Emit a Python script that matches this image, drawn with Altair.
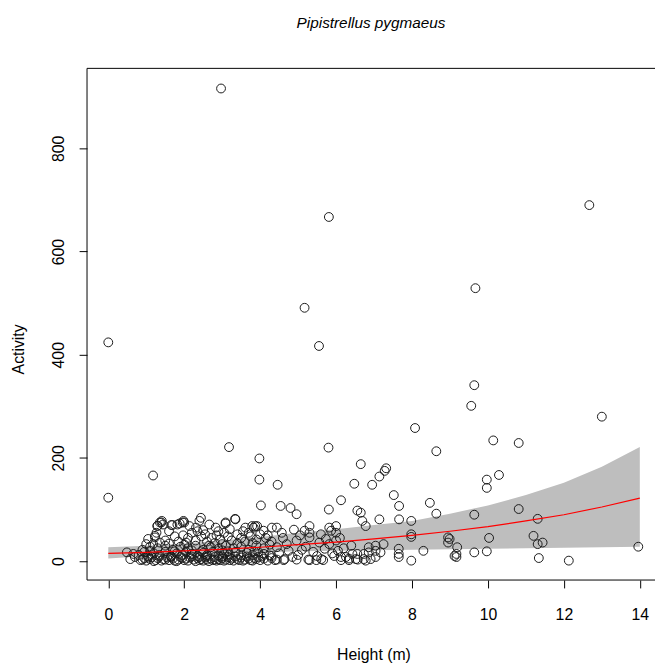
import altair as alt
import pandas as pd

chart_title = "Pipistrellus pygmaeus"
x_title = "Height (m)"
y_title = "Activity"
x_ticks = [0, 2, 4, 6, 8, 10, 12, 14]
y_ticks = [0, 200, 400, 600, 800]

# observed points (Height, Activity), grouped by region of the scatter
g1_x = [0, 0, 2.97, 5.81, 5.17, 5.55, 9.67, 9.64, 9.56, 13.0, 12.67, 8.08, 10.14, 10.81, 8.64,
        3.18, 5.8, 3.98, 6.65, 7.32, 7.28, 7.14, 1.18, 3.98, 9.97, 9.97, 10.29, 6.48, 6.95, 4.46,
        7.52, 6.13, 8.47, 4.02, 4.54, 7.66, 4.8, 10.81, 5.81, 6.56, 6.65, 8.64, 4.96, 9.64, 11.31,
        7.14, 7.66, 7.98, 6.69]
g1_y = [123, 424, 916, 667, 491, 417, 529, 341, 301, 280, 690, 258, 234, 229, 213,
        221, 220, 199, 188, 180, 175, 164, 166, 158, 158, 142, 167, 150, 148, 148,
        128, 118, 113, 108, 107, 107, 103, 101, 100, 98, 94, 92, 91, 90, 82,
        81, 81, 78, 78]

g2_x = [10.03, 11.2, 11.31, 11.44, 9.64, 9.97, 11.34, 12.13, 13.96, 7.98, 7.98, 8.95, 8.95, 9.19, 9.17,
        9.17, 8.3, 7.98, 7.04, 7.04, 7.25, 6.86, 6.86, 6.73, 6.73, 6.56, 6.43, 6.52, 7.65, 7.65,
        7.65, 6.13, 6.26, 6.34, 9.12, 6.78, 7.04, 6.91, 6.78, 7.17, 8.99]
g2_y = [45, 49, 33, 36, 17, 19, 6, 1, 28, 52, 47, 46, 36, 27, 14,
        8, 20, 1, 30, 20, 33, 27, 17, 14, 4, 14, 14, 4, 24, 14,
        8, 8, 8, 2, 10, 68, 8, 4, 1, 17, 43]

g3_x = [4.89, 5.17, 5.3, 5.3, 5.82, 5.87, 6.0, 6.0, 4.44, 4.57, 4.44, 4.7, 4.96, 5.3, 5.56,
        5.73, 5.82, 6.0, 4.44, 4.62, 4.96, 5.3, 5.61, 5.66, 4.39, 4.64, 5.27, 5.48, 6.13, 6.34,
        6.57, 4.5, 4.75, 5.0, 5.1, 5.4, 5.5, 5.7, 5.9, 6.05, 4.3, 4.85, 5.2, 5.95, 6.2,
        6.4, 4.6, 4.2, 4.3, 5.05, 5.6, 6.1]
g3_y = [61, 59, 68, 55, 65, 59, 68, 55, 65, 55, 27, 33, 40, 46, 36,
        43, 33, 40, 3, 2, 3, 2, 4, 2, 2, 4, 3, 2, 2, 5,
        3, 15, 20, 12, 22, 18, 10, 24, 15, 20, 10, 8, 28, 10, 25,
        30, 45, 50, 38, 50, 52, 45]

g4_x = [1.4, 1.3, 1.69, 1.88, 1.98, 1.27, 1.05, 1.23, 1.36, 1.44, 1.29, 1.41, 1.66, 1.82, 1.96,
        2.44, 2.4, 2.14, 2.31, 2.66, 2.83, 3.09, 3.35, 3.61, 3.87, 3.7, 3.83, 4.09, 4.31, 3.34,
        3.09, 2.0, 3.79, 3.92, 1.23, 1.36, 1.18]
g4_y = [75, 69, 70, 73, 78, 55, 43, 46, 75, 71, 68, 78, 70, 71, 75,
        84, 78, 68, 65, 71, 65, 73, 81, 65, 68, 55, 65, 59, 65, 82,
        75, 75, 68, 68, 49, 36, 33]

g5_x = [1.97, 2.1, 2.2, 2.3, 2.45, 2.55, 2.6, 2.72, 2.85, 2.95, 3.05, 3.15, 3.25, 3.4, 3.5,
        3.6, 3.75, 3.9, 4.0, 4.15, 2.05, 2.5, 2.9, 3.2, 3.55, 1.6, 1.75, 1.5, 1.85, 2.35,
        2.65, 3.0]
g5_y = [50, 45, 55, 40, 48, 52, 38, 45, 50, 42, 55, 48, 40, 52, 45,
        38, 48, 42, 52, 45, 36, 60, 58, 62, 58, 58, 48, 40, 38, 58,
        30, 33]

g6_x = [0.9, 1.1, 1.3, 1.5, 1.7, 1.9, 2.1, 2.3, 2.5, 2.7, 2.9, 3.1, 3.3, 3.5, 3.7,
        3.9, 4.1, 4.25, 1.0, 2.0, 2.8, 3.4, 1.6, 2.2, 3.0, 3.8]
g6_y = [22, 28, 25, 30, 22, 28, 25, 30, 22, 27, 24, 30, 25, 28, 22,
        30, 25, 32, 33, 32, 35, 34, 34, 21, 21, 35]

g7_x = [0.49, 0.66, 0.8, 0.95, 1.05, 1.2, 1.35, 1.5, 1.65, 1.8, 1.95, 2.05, 2.2, 2.35, 2.5,
        2.6, 2.75, 2.9, 3.05, 3.2, 3.35, 3.5, 3.65, 3.8, 3.95, 4.1, 4.25, 1.1, 1.75, 2.45,
        3.15, 3.85]
g7_y = [17, 14, 12, 18, 10, 15, 12, 18, 10, 15, 12, 18, 14, 10, 16,
        12, 18, 11, 15, 13, 18, 11, 16, 12, 18, 14, 11, 20, 19, 19,
        19, 19]

g8_x = [0.58, 0.7, 0.85, 0.95, 1.0, 1.1, 1.15, 1.25, 1.3, 1.4, 1.45, 1.55, 1.6, 1.7, 1.75,
        1.85, 1.9, 2.0, 2.05, 2.1, 2.15, 2.25, 2.3, 2.35, 2.4, 2.45, 2.5, 2.55, 2.6, 2.65,
        2.7, 2.75, 2.8, 2.85, 2.9, 2.95, 3.0, 3.05, 3.1, 3.15, 3.2, 3.25, 3.3, 3.4, 3.45,
        3.5, 3.55, 3.6, 3.7, 3.75, 3.8, 3.9, 3.95, 4.0, 4.1, 4.2, 4.3, 0.9, 1.05, 1.2,
        1.35, 1.5, 1.65, 1.8, 1.95, 2.2, 2.4, 2.6, 2.8, 3.0, 3.2, 3.35, 3.65, 3.85, 4.05]
g8_y = [4, 8, 2, 6, 1, 4, 8, 2, 6, 1, 4, 7, 2, 5, 1,
        3, 8, 2, 5, 1, 7, 3, 0, 6, 2, 4, 1, 7, 3, 0,
        5, 2, 8, 1, 4, 2, 6, 1, 3, 8, 2, 5, 1, 4, 2,
        7, 1, 3, 5, 2, 1, 4, 8, 2, 5, 1, 6, 3, 7, 0,
        9, 3, 8, 0, 6, 9, 8, 9, 3, 9, 7, 9, 9, 6, 9]

# fitted curve and its band, read at whole metres
curve_x = [0, 1, 2, 3, 4, 5, 6, 7, 8, 9, 10, 11, 12, 13, 14]
fit_y = [15, 17, 20, 23, 27, 32, 37, 43, 50, 58, 67, 78, 90, 105, 122]
band_lo = [5, 10, 13, 15, 17, 19, 20, 21, 22, 23, 24, 25, 26, 27, 28]
band_hi = [27, 30, 34, 40, 47, 55, 62, 70, 78, 92, 108, 128, 152, 183, 221]

xs, ys = [], []
for gx, gy in [(g1_x, g1_y), (g2_x, g2_y), (g3_x, g3_y), (g4_x, g4_y),
               (g5_x, g5_y), (g6_x, g6_y), (g7_x, g7_y), (g8_x, g8_y)]:
    n = min(len(gx), len(gy))
    xs += gx[:n]
    ys += gy[:n]

pts = pd.DataFrame({"height": xs, "activity": ys})
curve = pd.DataFrame({"height": curve_x, "fit": fit_y, "lo": band_lo, "hi": band_hi})

W, H = 575, 518
FONT = "Liberation Sans"

xscale = alt.Scale(domain=[-0.56, 14.4], nice=False, zero=False)
yscale = alt.Scale(domain=[-36.6, 955], nice=False, zero=False)

xaxis = alt.Axis(values=x_ticks, title=x_title, labelPadding=19, labelFlush=False,
                 labelOverlap=False, titleY=80, titleX=290, titleBaseline="alphabetic",
                 titleAlign="center")
yaxis = alt.Axis(values=y_ticks, title=y_title, labelAngle=270, labelAlign="center",
                 labelBaseline="alphabetic", labelPadding=16, labelFlush=False,
                 labelOverlap=False, titleAngle=270, titleX=-64, titleY=284,
                 titleBaseline="alphabetic", titleAlign="center")

band = alt.Chart(curve).mark_area(color="#BEBEBE", opacity=1).encode(
    x=alt.X("height:Q", scale=xscale, axis=xaxis),
    y=alt.Y("hi:Q", scale=yscale, axis=yaxis),
    y2="lo:Q",
)

points = alt.Chart(pts).mark_point(shape="circle", filled=False, size=80,
                                   color="#1a1a1a", strokeWidth=1, opacity=1).encode(
    x=alt.X("height:Q", scale=xscale, axis=xaxis),
    y=alt.Y("activity:Q", scale=yscale, axis=yaxis),
)

line = alt.Chart(curve).mark_line(color="#FF0000", strokeWidth=1.2).encode(
    x=alt.X("height:Q", scale=xscale, axis=xaxis),
    y=alt.Y("fit:Q", scale=yscale, axis=yaxis),
)

one = alt.Data(values=[{"k": 1}])
box_top = alt.Chart(one).mark_rule(color="black", strokeWidth=1).encode(
    x=alt.value(0), x2=alt.value(W + 10), y=alt.value(0))
box_left = alt.Chart(one).mark_rule(color="black", strokeWidth=1).encode(
    x=alt.value(0), y=alt.value(0), y2=alt.value(H))
box_bottom = alt.Chart(one).mark_rule(color="black", strokeWidth=1).encode(
    x=alt.value(0), x2=alt.value(W + 10), y=alt.value(H))

chart = alt.layer(band, points, line, box_top, box_left, box_bottom).properties(
    width=W, height=H,
    title=alt.TitleParams(chart_title, font=FONT, fontSize=15.5, fontStyle="italic",
                          fontWeight="normal", color="black", anchor="middle",
                          offset=25, baseline="alphabetic"),
    autosize=alt.AutoSizeParams(type="none"),
    padding={"left": 80, "top": 57, "right": 0, "bottom": 90},
).configure_view(stroke=None).configure_axis(
    domain=False, grid=False, ticks=True, tickColor="black", tickSize=8, tickWidth=1,
    labelFont=FONT, labelFontSize=16, labelColor="black",
    titleFont=FONT, titleFontSize=16, titleFontWeight="normal", titleColor="black",
)

chart.save("out.html", embed_options={"renderer": "svg", "actions": False})
